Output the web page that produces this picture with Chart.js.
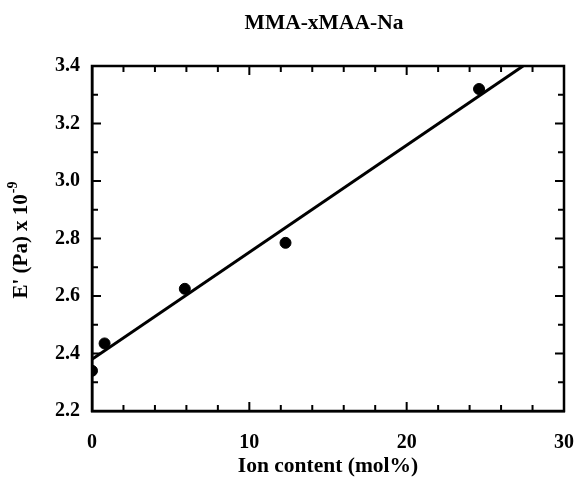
<!DOCTYPE html>
<html>
<head>
<meta charset="utf-8">
<script src="https://cdn.jsdelivr.net/npm/chart.js@4.4.0/dist/chart.umd.min.js"></script>
<style>
  html, body { margin: 0; padding: 0; background: #fff; }
  #wrap { width: 578px; height: 477px; }
</style>
</head>
<body>
<div id="wrap"><canvas id="chart" width="578" height="477"></canvas></div>
<script>
// measured points
const ionContent = [0, 0.8, 5.9, 12.3, 24.6];
const modulus = [2.34, 2.435, 2.625, 2.785, 3.32];

// fitted straight line (end points)
const fitX = [0, 27.4];
const fitY = [2.38, 3.4];

const xRange = [0, 30];
const yRange = [2.2, 3.4];
const xMajorStep = 10, xMinorStep = 2;
const yMajorStep = 0.2, yMinorStep = 0.1;

const chartTitle = "MMA-xMAA-Na";
const xTitle = "Ion content (mol%)";
const yTitleMain = "E' (Pa) x 10";
const yTitleSup = "-9";

const SERIF = "'Liberation Serif', 'Times New Roman', serif";

// frame, inward ticks on all four sides, title and y title
const framePlugin = {
    id: "frame",
    afterDraw(chart) {
        const { ctx, chartArea: a, scales } = chart;
        const xs = scales.x, ys = scales.y;
        ctx.save();
        ctx.strokeStyle = "#000";
        ctx.lineWidth = 2.5;
        ctx.strokeRect(a.left, a.top, a.right - a.left, a.bottom - a.top);

        ctx.lineWidth = 2;
        ctx.beginPath();
        for (let i = 0; xRange[0] + i * xMinorStep <= xRange[1] + 1e-9; i++) {
            const v = xRange[0] + i * xMinorStep;
            const px = xs.getPixelForValue(v);
            const len = (Math.abs(v % xMajorStep) < 1e-9) ? 9 : 6;
            ctx.moveTo(px, a.bottom); ctx.lineTo(px, a.bottom - len);
            ctx.moveTo(px, a.top); ctx.lineTo(px, a.top + len);
        }
        const nY = Math.round((yRange[1] - yRange[0]) / yMinorStep);
        for (let i = 0; i <= nY; i++) {
            const v = yRange[0] + i * yMinorStep;
            const py = ys.getPixelForValue(v);
            const len = (i % Math.round(yMajorStep / yMinorStep) === 0) ? 9 : 6;
            ctx.moveTo(a.left, py); ctx.lineTo(a.left + len, py);
            ctx.moveTo(a.right, py); ctx.lineTo(a.right - len, py);
        }
        ctx.stroke();

        // chart title
        ctx.fillStyle = "#000";
        ctx.font = "bold 21.5px " + SERIF;
        ctx.textAlign = "center";
        ctx.textBaseline = "middle";
        ctx.fillText(chartTitle, (a.left + a.right) / 2 - 4, 23);

        // y title with superscript
        ctx.translate(22, (a.top + a.bottom) / 2 + 2);
        ctx.rotate(-Math.PI / 2);
        ctx.font = "bold 21px " + SERIF;
        const w1 = ctx.measureText(yTitleMain).width;
        ctx.font = "bold 14px " + SERIF;
        const w2 = ctx.measureText(yTitleSup).width;
        const start = -(w1 + w2) / 2;
        ctx.textAlign = "left";
        ctx.font = "bold 21px " + SERIF;
        ctx.fillText(yTitleMain, start, 0);
        ctx.font = "bold 14px " + SERIF;
        ctx.fillText(yTitleSup, start + w1 + 1, -9);
        ctx.restore();
    }
};

new Chart(document.getElementById("chart"), {
    type: "scatter",
    data: {
        datasets: [
            {
                type: "line",
                data: fitX.map((x, i) => ({ x: x, y: fitY[i] })),
                borderColor: "#000",
                borderWidth: 3,
                pointRadius: 0,
                fill: false
            },
            {
                data: ionContent.map((x, i) => ({ x: x, y: modulus[i] })),
                backgroundColor: "#000",
                borderColor: "#000",
                pointRadius: 5.5,
                pointHoverRadius: 5.5
            }
        ]
    },
    options: {
        responsive: false,
        animation: false,
        layout: { padding: { top: 66, right: 14, left: 0, bottom: 0 } },
        plugins: {
            legend: { display: false },
            tooltip: { enabled: false },
            title: { display: false }
        },
        scales: {
            x: {
                type: "linear",
                min: xRange[0],
                max: xRange[1],
                afterFit(scale) { scale.height = 66; },
                // invisible tick marks push the labels down without widening the side padding
                grid: { display: true, drawOnChartArea: false, drawTicks: true, tickLength: 20, tickColor: "rgba(0,0,0,0)" },
                border: { display: true, color: "#000", width: 2.5 },
                ticks: {
                    stepSize: xMajorStep,
                    padding: 0,
                    color: "#000",
                    font: { family: SERIF, size: 20, weight: "bold" }
                },
                title: {
                    display: true,
                    text: xTitle,
                    color: "#000",
                    font: { family: SERIF, size: 21.5, weight: "bold", lineHeight: 1 },
                    padding: { top: 0, bottom: 0 }
                }
            },
            y: {
                type: "linear",
                min: yRange[0],
                max: yRange[1],
                afterFit(scale) { scale.width = 92; },
                grid: { display: false, drawTicks: false },
                border: { display: true, color: "#000", width: 2.5 },
                ticks: {
                    stepSize: yMajorStep,
                    padding: 12,
                    color: "#000",
                    font: { family: SERIF, size: 20, weight: "bold" },
                    callback: (v) => Number(v).toFixed(1)
                }
            }
        }
    },
    plugins: [framePlugin]
});
</script>
</body>
</html>
